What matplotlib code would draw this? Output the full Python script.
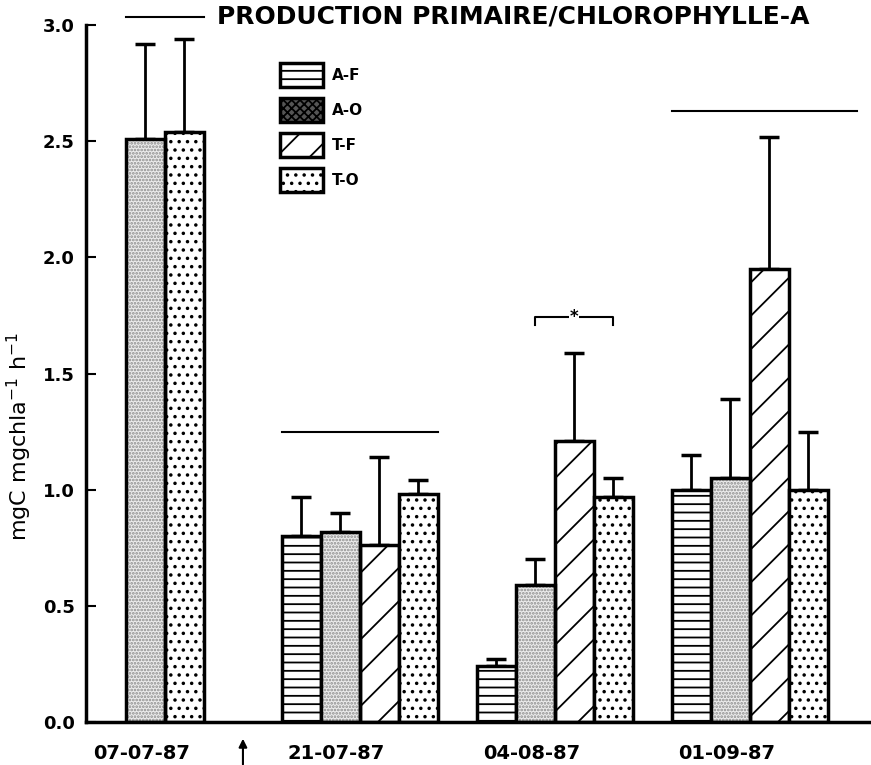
import matplotlib
matplotlib.use("Agg")
import matplotlib.pyplot as plt
import matplotlib.patches as mpatches
import numpy as np

# data
dates = ["07-07-87", "21-07-87", "04-08-87", "01-09-87"]
treatments = ["A-F", "A-O", "T-F", "T-O"]
a_f = [np.nan, 0.80, 0.24, 1.00]
a_o = [2.51, 0.82, 0.59, 1.05]
t_f = [np.nan, 0.76, 1.21, 1.95]
t_o = [2.54, 0.98, 0.97, 1.00]
a_f_err = [0, 0.17, 0.03, 0.15]
a_o_err = [0.41, 0.08, 0.11, 0.34]
t_f_err = [0, 0.38, 0.38, 0.57]
t_o_err = [0.40, 0.06, 0.08, 0.25]

plt.rcParams['hatch.linewidth'] = 1.3
plt.rcParams['font.family'] = 'DejaVu Sans'

fig = plt.figure(figsize=(8.71, 7.65), dpi=100)
ax = fig.add_axes([0.0987, 0.0562, 0.9, 0.911])

x = np.arange(len(dates))
w = 0.2
offsets = {"A-F": -1.5 * w, "A-O": -0.5 * w, "T-F": 0.5 * w, "T-O": 1.5 * w}
hatches = {"A-F": "--", "A-O": None, "T-F": "/", "T-O": ".."}
values = {"A-F": a_f, "A-O": a_o, "T-F": t_f, "T-O": t_o}
errors = {"A-F": a_f_err, "A-O": a_o_err, "T-F": t_f_err, "T-O": t_o_err}

for t in treatments:
    pos = x + offsets[t]
    # first date only has A-O and T-O, drawn side by side around the centre
    if t == "A-O":
        pos[0] = x[0] - 0.5 * w
    if t == "T-O":
        pos[0] = x[0] + 0.5 * w
    vals = np.array(values[t], dtype=float)
    err = np.array(errors[t], dtype=float)
    ok = ~np.isnan(vals)
    ax.errorbar(pos[ok], vals[ok], yerr=[np.zeros(ok.sum()), err[ok]], fmt='none',
                ecolor='black', elinewidth=2, capsize=7, capthick=2.5, zorder=1)
    if t == "A-O":
        ax.bar(pos[ok], vals[ok], w, color='#ececec', edgecolor='#8c8c8c',
               hatch='.....', linewidth=0, zorder=2)
        ax.bar(pos[ok], vals[ok], w, fill=False, edgecolor='black', linewidth=2.5, zorder=3)
    else:
        ax.bar(pos[ok], vals[ok], w, color='white', edgecolor='black',
               hatch=hatches[t], linewidth=2.5, zorder=2)

# significance lines and bracket
ax.plot([-0.2, 0.2], [3.035, 3.035], color='black', lw=1.5, clip_on=False)
ax.plot([0.6, 1.4], [1.25, 1.25], color='black', lw=1.5)
ax.plot([2.6, 3.55], [2.63, 2.63], color='black', lw=1.5)
ax.plot([1.9, 1.9, 2.3, 2.3], [1.71, 1.745, 1.745, 1.71], color='black', lw=1.5)
ax.text(2.1, 1.745, "*", ha='center', va='center', fontsize=12, fontweight='bold',
        bbox=dict(facecolor='white', edgecolor='none', pad=0.5))

ax.text(0.265, 3.035, "PRODUCTION PRIMAIRE/CHLOROPHYLLE-A", ha='left', va='center',
        fontsize=18, fontweight='bold', clip_on=False)

# arrow under the x axis
ax.annotate("", xy=(0.4, -0.02), xycoords=('data', 'axes fraction'),
            xytext=(0.4, -0.065), textcoords=('data', 'axes fraction'),
            arrowprops=dict(arrowstyle='-|>', color='black', lw=1.5, mutation_scale=12))

ax.set_xlim(-0.405, 3.615)
ax.set_ylim(0, 3.0)
ax.set_yticks(np.arange(0, 3.01, 0.5))
ax.set_yticklabels([f"{v:.1f}" for v in np.arange(0, 3.01, 0.5)], fontsize=13, fontweight='bold')
ax.set_xticks(x - 0.12)
ax.set_xticklabels(dates, fontsize=14, fontweight='bold')
ax.tick_params(axis='x', length=0, pad=16)
ax.tick_params(axis='y', direction='in', length=7, width=1.5, pad=8)
ax.spines['top'].set_visible(False)
ax.spines['right'].set_visible(False)
ax.spines['left'].set_linewidth(2.5)
ax.spines['bottom'].set_linewidth(2.5)
ax.set_ylabel(r"mgC mgchla$^{-1}$ h$^{-1}$", fontsize=16)
ax.yaxis.set_label_coords(-0.066, 0.41)

handles = [
    mpatches.Patch(facecolor='white', edgecolor='black', hatch='--', linewidth=2.5),
    mpatches.Patch(facecolor='#555555', edgecolor='black', hatch='xxxx', linewidth=2.5),
    mpatches.Patch(facecolor='white', edgecolor='black', hatch='/', linewidth=2.5),
    mpatches.Patch(facecolor='white', edgecolor='black', hatch='..', linewidth=2.5),
]
leg = ax.legend(handles, treatments, loc='upper left', bbox_to_anchor=(0.23, 0.965),
                frameon=False, handlelength=2.8, handleheight=2.0, labelspacing=0.75,
                prop={'weight': 'bold', 'size': 11}, handletextpad=0.6)

fig.savefig("out.png", dpi=100)
